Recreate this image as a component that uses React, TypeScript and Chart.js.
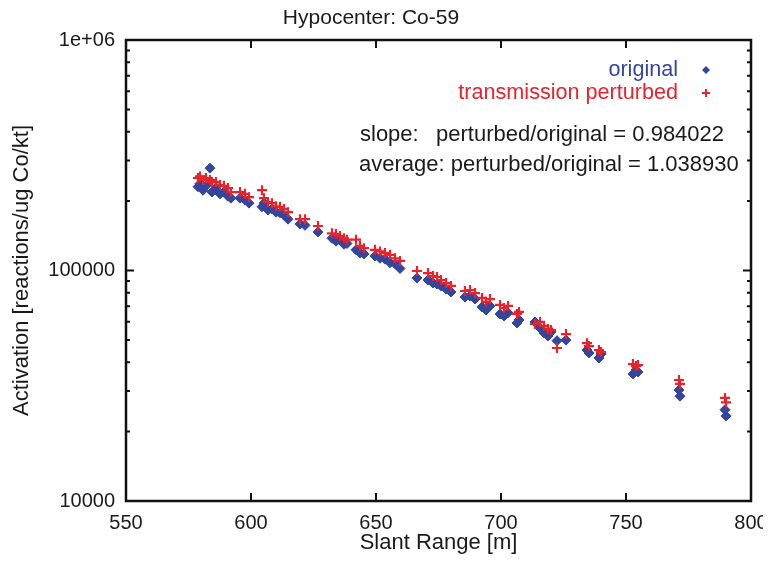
import React, { useEffect, useRef } from 'react';
import { Chart, registerables } from 'chart.js';

Chart.register(...registerables);

const chartTitle = 'Hypocenter: Co-59';
const xTitle = 'Slant Range [m]';
const yTitle = 'Activation [reactions/ug Co/kt]';
const seriesLabels = ['original', 'transmission perturbed'];
const noteSlopeLabel = 'slope:';
const noteSlopeText = 'perturbed/original = 0.984022';
const noteAverageText = 'average: perturbed/original = 1.038930';

const xTickValues = [550, 600, 650, 700, 750, 800];
const yMajorTicks = [10000, 100000, 1000000];
const yMajorLabels = ['10000', '100000', '1e+06'];

const slantRange = [
  578.8, 579.6, 580.8, 582.0, 583.6, 584.4, 586.0, 587.6, 589.2, 590.8, 592.0,
  595.6, 597.6, 599.2,
  604.4, 605.2, 606.8, 608.4, 610.0, 611.6, 613.2, 614.8,
  619.6, 621.6, 626.8,
  632.4, 634.0, 635.6, 637.2, 638.4,
  642.0, 643.6, 645.2,
  649.6, 651.6, 653.6, 655.6, 657.6, 659.6,
  666.4,
  670.8, 672.8, 674.4, 676.0, 678.0, 680.0,
  685.6, 687.6, 689.6,
  692.4, 694.0, 695.6,
  699.6, 701.2, 702.8,
  706.4, 707.2,
  713.6, 715.6, 717.2, 718.8, 720.0,
  722.4, 726.0,
  734.4, 735.2, 739.2, 740.0,
  752.8, 754.0, 754.8,
  771.2, 771.6,
  789.6, 790.0,
];

const original = [
  231000, 238000, 223000, 233000, 278000, 219000, 228000, 215000, 219000, 210000, 206000,
  206000, 202000, 196000,
  189000, 196000, 183000, 185000, 179000, 178000, 174000, 167000,
  159000, 157000, 147000,
  138000, 134000, 136000, 130000, 131000,
  123000, 119000, 118000,
  115600, 113000, 112000, 108000, 107000, 102000,
  92700,
  90900, 88200, 87400, 85700, 83100, 80700,
  76700, 77500, 75200,
  69500, 67400, 70200,
  64800, 63500, 65500,
  59200, 61000,
  59800, 56300, 53600, 52000, 54200,
  49600, 49900,
  45200, 43900, 41700, 43400,
  35600, 37000, 36300,
  30300, 28500,
  24900, 23400,
];

const perturbed = [
  252000, 256000, 247000, 252000, 247000, 242000, 242000, 235000, 233000, 228000, 219000,
  219000, 215000, 208000,
  223000, 206000, 198000, 196000, 190000, 189000, 185000, 179000,
  167000, 167000, 156000,
  145000, 144000, 141000, 138000, 136000,
  136000, 128000, 125000,
  123000, 121000, 119000, 117000, 113000, 110000,
  99500,
  97500, 94600, 93700, 90900, 88200, 85700,
  81500, 82300, 79800,
  76000, 73100, 75200,
  70900, 68800, 70200,
  64800, 66100,
  58600, 59800, 57500, 55800, 55200,
  46100, 53000,
  48400, 47000, 45200, 44300,
  39300, 38500, 38900,
  33500, 32200,
  28000, 26800,
];

const BLUE = '#33469e';
const RED = '#e8232b';
const FONT = '"Liberation Sans", Arial, Helvetica, sans-serif';

const overlay = {
  id: 'overlay',
  afterDraw(chart: any) {
    const { ctx, chartArea } = chart;
    const { left, right, top, bottom } = chartArea;
    const xs = chart.scales.x;
    const ys = chart.scales.y;
    ctx.save();
    // frame
    ctx.strokeStyle = '#111';
    ctx.lineWidth = 2.5;
    ctx.strokeRect(left, top, right - left, bottom - top);
    // x ticks (inward)
    ctx.lineWidth = 2;
    xTickValues.forEach((v) => {
      const px = xs.getPixelForValue(v);
      ctx.beginPath();
      ctx.moveTo(px, bottom);
      ctx.lineTo(px, bottom - 8);
      ctx.moveTo(px, top);
      ctx.lineTo(px, top + 8);
      ctx.stroke();
    });
    // y ticks (log, inward)
    for (let d = 10000; d < 1000000; d *= 10) {
      for (let m = 1; m <= 9; m++) {
        const v = d * m;
        const py = ys.getPixelForValue(v);
        const len = m === 1 ? 8 : 4;
        ctx.beginPath();
        ctx.moveTo(left, py);
        ctx.lineTo(left + len, py);
        ctx.moveTo(right, py);
        ctx.lineTo(right - len, py);
        ctx.stroke();
      }
    }
    // title
    ctx.fillStyle = '#1a1a1a';
    ctx.font = `21px ${FONT}`;
    ctx.textAlign = 'center';
    ctx.textBaseline = 'middle';
    ctx.fillText(chartTitle, 371, 18);
    // x axis title
    ctx.font = `22px ${FONT}`;
    ctx.fillText(xTitle, (left + right) / 2, 543);
    // y axis title
    ctx.save();
    ctx.translate(22, (top + bottom) / 2);
    ctx.rotate(-Math.PI / 2);
    ctx.fillText(yTitle, 0, 0);
    ctx.restore();
    // legend
    const legendRight = 678;
    const markerX = 706;
    const rows = [
      { text: seriesLabels[0], color: BLUE, y: 70, style: 'rectRot' },
      { text: seriesLabels[1], color: RED, y: 93, style: 'cross' },
    ];
    ctx.font = `21.6px ${FONT}`;
    ctx.textAlign = 'right';
    rows.forEach((r) => {
      ctx.fillStyle = r.color;
      ctx.fillText(r.text, legendRight, r.y);
      ctx.beginPath();
      if (r.style === 'rectRot') {
        ctx.moveTo(markerX, r.y - 4);
        ctx.lineTo(markerX + 4, r.y);
        ctx.lineTo(markerX, r.y + 4);
        ctx.lineTo(markerX - 4, r.y);
        ctx.closePath();
        ctx.fill();
      } else {
        ctx.strokeStyle = r.color;
        ctx.lineWidth = 2;
        ctx.moveTo(markerX - 4, r.y);
        ctx.lineTo(markerX + 4, r.y);
        ctx.moveTo(markerX, r.y - 4);
        ctx.lineTo(markerX, r.y + 4);
        ctx.stroke();
      }
    });
    // notes
    ctx.fillStyle = '#1a1a1a';
    ctx.font = `22px ${FONT}`;
    ctx.textAlign = 'left';
    ctx.fillText(noteSlopeLabel, 360, 135);
    ctx.fillText(noteSlopeText, 436, 135);
    ctx.fillText(noteAverageText, 359, 165);
    ctx.restore();
  },
};

export default function App() {
  const ref = useRef<HTMLCanvasElement>(null);
  useEffect(() => {
    if (!ref.current) return;
    const chart = new Chart(ref.current, {
      type: 'scatter',
      data: {
        datasets: [
          {
            label: seriesLabels[0],
            data: slantRange.map((x, i) => ({ x, y: original[i] })),
            pointStyle: 'rectRot',
            radius: 5,
            backgroundColor: BLUE,
            borderColor: BLUE,
            borderWidth: 1,
            order: 1,
          },
          {
            label: seriesLabels[1],
            data: slantRange.map((x, i) => ({ x, y: perturbed[i] })),
            pointStyle: 'cross',
            radius: 5,
            backgroundColor: RED,
            borderColor: RED,
            borderWidth: 2.2,
            order: 0,
          },
        ],
      },
      options: {
        animation: false,
        responsive: false,
        maintainAspectRatio: false,
        layout: { padding: { top: 40, right: 20, left: 0, bottom: 0 } },
        plugins: {
          legend: { display: false },
          title: { display: false },
          tooltip: { enabled: false },
        },
        scales: {
          x: {
            type: 'linear',
            min: 550,
            max: 800,
            grid: { display: false, drawTicks: false },
            border: { display: false },
            afterFit: (s: any) => {
              s.height = 61;
              s.paddingLeft = 0;
              s.paddingRight = 0;
            },
            afterBuildTicks: (s: any) => { s.ticks = xTickValues.map((v) => ({ value: v })); },
            ticks: {
              color: '#1a1a1a',
              font: { family: FONT, size: 20 },
              padding: 10,
              maxRotation: 0,
              autoSkip: false,
            },
          },
          y: {
            type: 'logarithmic',
            min: 10000,
            max: 1000000,
            grid: { display: false, drawTicks: false },
            border: { display: false },
            afterFit: (s: any) => {
              s.width = 126;
              s.paddingTop = 0;
              s.paddingBottom = 0;
            },
            afterBuildTicks: (s: any) => { s.ticks = yMajorTicks.map((v) => ({ value: v })); },
            ticks: {
              color: '#1a1a1a',
              font: { family: FONT, size: 20 },
              padding: 11,
              autoSkip: false,
              callback: (v: any) => {
                const i = yMajorTicks.indexOf(Number(v));
                return i >= 0 ? yMajorLabels[i] : '';
              },
            },
          },
        },
      },
      plugins: [overlay],
    });
    return () => chart.destroy();
  }, []);
  return (
    <div style={{ width: 771, height: 562, margin: -8 }}>
      <canvas ref={ref} width={771} height={562} style={{ display: 'block' }} />
    </div>
  );
}
